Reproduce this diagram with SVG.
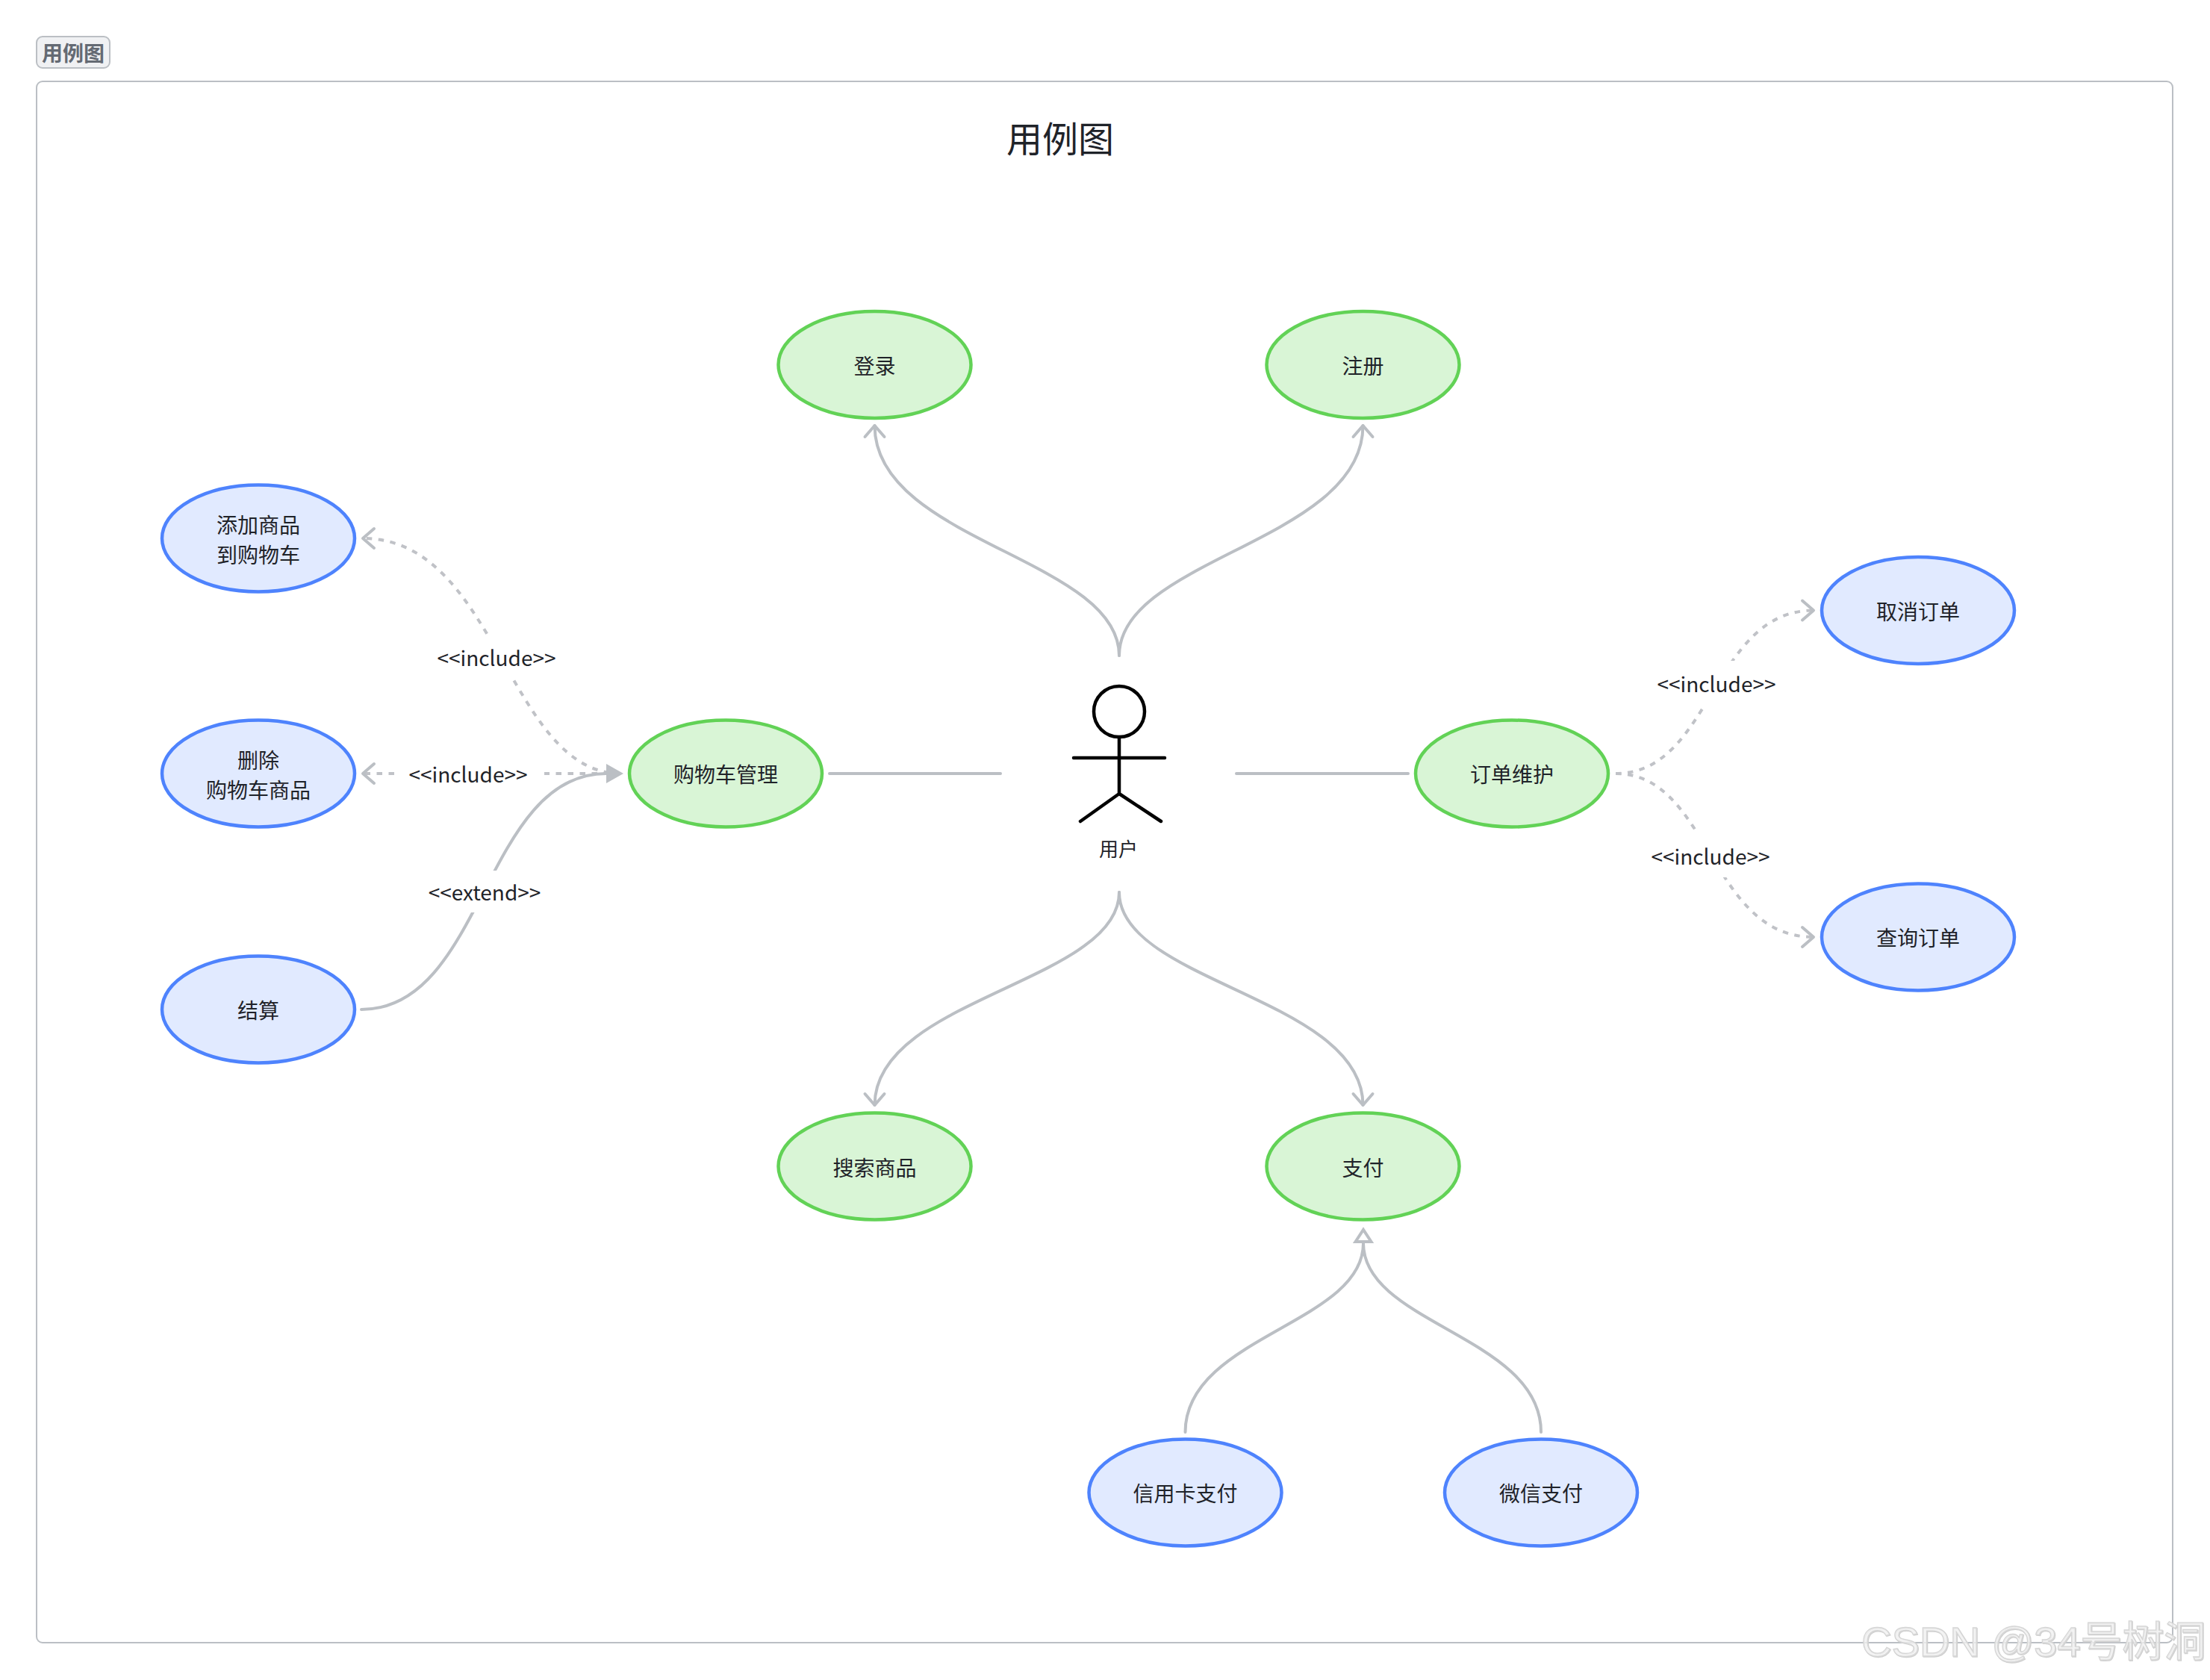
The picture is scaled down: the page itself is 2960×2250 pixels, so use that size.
<svg xmlns="http://www.w3.org/2000/svg" width="2960" height="2250" viewBox="0 0 2960 2250">
<style>
text{font-family:"Noto Sans CJK SC","Noto Sans",sans-serif;fill:#1f2329;font-size:28px;text-anchor:middle}
.green{fill:#d9f5d6;stroke:#62d256;stroke-width:4.500}
.blue{fill:#e1eaff;stroke:#4e83fd;stroke-width:4.500}
.line{fill:none;stroke:#bbbfc4;stroke-width:4;stroke-linecap:round}
.dash{fill:none;stroke:#c0c2c7;stroke-width:4;stroke-dasharray:7.500 8.500}
.open{marker-end:url(#open)}
.actor{fill:none;stroke:#000;stroke-width:4.500;stroke-linecap:round;stroke-linejoin:round}
.gap{fill:#fff}
.wm{font-family:"Liberation Sans","Noto Sans CJK SC",sans-serif;font-size:56px;text-anchor:start;fill:#fff;fill-opacity:.55;stroke:#d6d6d6;stroke-width:1.300;filter:drop-shadow(1px 1px 0 #cfcfcf)}
</style>
<defs>
<marker id="open" markerUnits="userSpaceOnUse" markerWidth="40" markerHeight="40" refX="20" refY="20" orient="auto" overflow="visible"><path d="M5 7L20 20L5 33" fill="none" stroke="#bbbfc4" stroke-width="4" stroke-linecap="round" stroke-linejoin="round"/></marker>
<marker id="fill" markerUnits="userSpaceOnUse" markerWidth="40" markerHeight="40" refX="0" refY="20" orient="auto" overflow="visible"><path d="M0 7L23 20L0 33Z" fill="#bbbfc4"/></marker>
<marker id="hollow" markerUnits="userSpaceOnUse" markerWidth="40" markerHeight="40" refX="0" refY="20" orient="auto" overflow="visible"><path d="M2 9.500L18 20L2 30.500Z" fill="#fff" stroke="#bbbfc4" stroke-width="4"/></marker>
</defs>
<rect width="2960" height="2250" fill="#fff"/>
<g id="frame">
<rect x="49" y="109" width="2861" height="2091" rx="8" fill="none" stroke="#bbbfc4" stroke-width="2"/>
<rect x="49" y="49" width="98" height="42" rx="8" fill="#f0f1f3" stroke="#bbbfc4" stroke-width="2"/>
<text x="98" y="82" style="fill:#646a73;font-weight:700">用例图</text>
<text x="1420" y="204" style="font-size:48px">用例图</text>
</g>
<g id="connectors">
<path class="line open" d="M1499 878C1499 748 1171.500 725 1171.500 570"/>
<path class="line open" d="M1499 878C1499 748 1825.500 725 1825.500 570"/>
<path class="line open" d="M1499 1195C1499 1315 1171.500 1337 1171.500 1480"/>
<path class="line open" d="M1499 1195C1499 1315 1825.500 1337 1825.500 1480"/>
<path class="line" d="M1111 1036H1340"/>
<path class="line" d="M1656 1036H1886"/>
<path class="line" d="M1587.500 1918C1587.500 1790 1826 1773 1826 1665" marker-end="url(#hollow)"/>
<path class="line" d="M2064 1918C2064 1790 1826 1773 1826 1665"/>
<path class="dash open" d="M832 1036C680 1036 666 721 486 721"/>
<path class="dash open" d="M832 1036H486"/>
<path class="line" d="M484 1352C648 1352 648 1036 812 1036" marker-end="url(#fill)"/>
<path class="dash open" d="M2164 1036C2293 1036 2293 817.500 2429 817.500"/>
<path class="dash open" d="M2164 1036C2290 1036 2290 1255 2429 1255"/>
<rect class="gap" x="564" y="851" width="200" height="56"/>
<text x="665" y="892">&lt;&lt;include&gt;&gt;</text>
<rect class="gap" x="530" y="1009" width="199" height="56"/>
<text x="627" y="1048">&lt;&lt;include&gt;&gt;</text>
<rect class="gap" x="549" y="1166" width="200" height="56"/>
<text x="649" y="1206">&lt;&lt;extend&gt;&gt;</text>
<rect class="gap" x="2199" y="885" width="200" height="60"/>
<text x="2299" y="927">&lt;&lt;include&gt;&gt;</text>
<rect class="gap" x="2191" y="1113" width="200" height="62"/>
<text x="2291" y="1158">&lt;&lt;include&gt;&gt;</text>
</g>
<g id="actor">
<circle class="actor" cx="1499" cy="953" r="34"/>
<path class="actor" d="M1499 987V1063M1438 1015H1560M1447 1100L1499 1063L1555 1100"/>
<text x="1498" y="1147" style="font-size:26px">用户</text>
</g>
<g id="login"><ellipse class="green" cx="1171.500" cy="488.500" rx="129" ry="71.500"/><text x="1171.500" y="500.500">登录</text></g>
<g id="register"><ellipse class="green" cx="1825.500" cy="488.500" rx="129" ry="71.500"/><text x="1825.500" y="500.500">注册</text></g>
<g id="search"><ellipse class="green" cx="1171.500" cy="1562" rx="129" ry="71.500"/><text x="1171.500" y="1574.500">搜索商品</text></g>
<g id="pay"><ellipse class="green" cx="1825.500" cy="1562" rx="129" ry="71.500"/><text x="1825.500" y="1574.500">支付</text></g>
<g id="cart"><ellipse class="green" cx="972" cy="1036" rx="129" ry="71.500"/><text x="972" y="1048">购物车管理</text></g>
<g id="order"><ellipse class="green" cx="2025" cy="1036" rx="129" ry="71.500"/><text x="2025" y="1048">订单维护</text></g>
<g id="add"><ellipse class="blue" cx="346" cy="721" rx="129" ry="71.500"/><text x="346" y="714">添加商品</text><text x="346" y="754">到购物车</text></g>
<g id="remove"><ellipse class="blue" cx="346" cy="1036" rx="129" ry="71.500"/><text x="346" y="1029">删除</text><text x="346" y="1069">购物车商品</text></g>
<g id="checkout"><ellipse class="blue" cx="346" cy="1352" rx="129" ry="71.500"/><text x="346" y="1364">结算</text></g>
<g id="cancel"><ellipse class="blue" cx="2569" cy="817.500" rx="129" ry="71.500"/><text x="2569" y="830">取消订单</text></g>
<g id="query"><ellipse class="blue" cx="2569" cy="1255" rx="129" ry="71.500"/><text x="2569" y="1267">查询订单</text></g>
<g id="credit"><ellipse class="blue" cx="1587.500" cy="1999" rx="129" ry="71.500"/><text x="1587.500" y="2011">信用卡支付</text></g>
<g id="wechat"><ellipse class="blue" cx="2064" cy="1999" rx="129" ry="71.500"/><text x="2064" y="2011">微信支付</text></g>
<text class="wm" x="2493" y="2218">CSDN @34号树洞</text>
</svg>
